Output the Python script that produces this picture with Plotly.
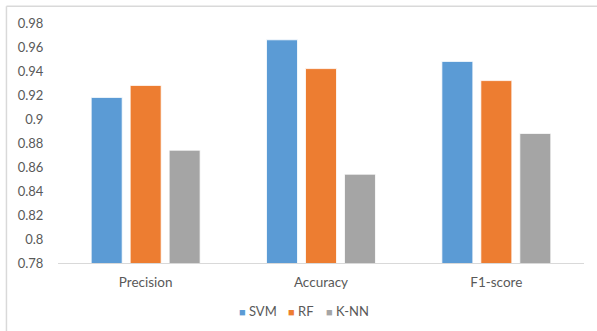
import plotly.graph_objects as go

# Metric categories and model scores
categories = ["Precision", "Accuracy", "F1-score"]
svm_scores = [0.918, 0.966, 0.948]
rf_scores = [0.928, 0.942, 0.932]
knn_scores = [0.874, 0.854, 0.888]
y_ticks = [0.78, 0.8, 0.82, 0.84, 0.86, 0.88, 0.9, 0.92, 0.94, 0.96, 0.98]
y_tick_text = ["0.78", "0.8", "0.82", "0.84", "0.86", "0.88", "0.9", "0.92", "0.94", "0.96", "0.98"]
model_names = ["SVM", "RF", "K-NN"]
model_colors = ["#5B9BD5", "#ED7D31", "#A5A5A5"]

text_color = "#595959"
font_family = "Lato, 'Open Sans', sans-serif"

fig = go.Figure()
for name, vals, color in zip(model_names, [svm_scores, rf_scores, knn_scores], model_colors):
    fig.add_trace(go.Bar(
        name=name, x=categories, y=vals,
        marker=dict(color=color, line=dict(color="white", width=0.8)),
        showlegend=False,
    ))

# Compact legend row below the axis: small colored square followed by the label
legend_x = [0.340, 0.434, 0.506]
annotations = []
for name, color, lx in zip(model_names, model_colors, legend_x):
    annotations.append(dict(
        xref="paper", yref="paper", x=lx, y=-0.2, xanchor="left", yanchor="middle",
        showarrow=False,
        text=f"<span style='color:{color};font-size:11px'>■</span> {name}",
        font=dict(family=font_family, size=13, color=text_color),
    ))

fig.update_layout(
    width=597, height=331,
    margin=dict(l=58, r=13, t=23, b=68, autoexpand=False),
    paper_bgcolor="white", plot_bgcolor="white",
    barmode="group", bargap=0.333, bargroupgap=0.205,
    font=dict(family=font_family, size=13, color=text_color),
    showlegend=False,
    annotations=annotations,
    xaxis=dict(showgrid=False, showline=True, linecolor="#D9D9D9", linewidth=1,
               ticks="outside", ticklen=7, tickcolor="rgba(0,0,0,0)",
               tickfont=dict(size=13.5, color=text_color)),
    yaxis=dict(range=[0.78, 0.98], tickvals=y_ticks, ticktext=y_tick_text,
               showgrid=False, showline=False, zeroline=False,
               ticks="outside", ticklen=11, tickcolor="rgba(0,0,0,0)",
               tickfont=dict(size=13, color=text_color)),
    shapes=[
        dict(type="line", xref="paper", yref="paper", x0=-0.098, x1=1.03, y0=1.07, y1=1.07,
             line=dict(color="#D9D9D9", width=1.5)),
        dict(type="line", xref="paper", yref="paper", x0=-0.098, x1=-0.098, y0=1.07, y1=-0.3,
             line=dict(color="#D9D9D9", width=1.5)),
    ],
)

fig.write_html("out.html")
